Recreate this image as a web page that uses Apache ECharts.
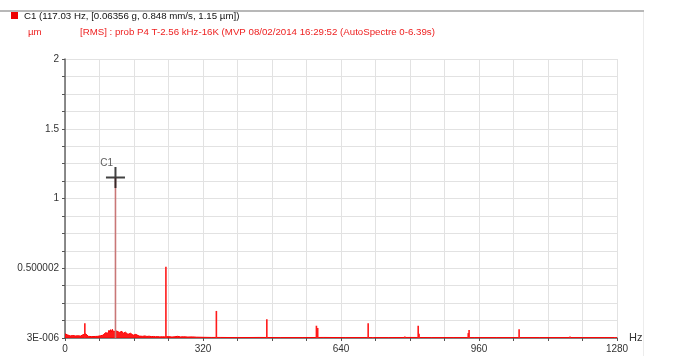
<!DOCTYPE html>
<html>
<head>
<meta charset="utf-8">
<script src="https://cdn.jsdelivr.net/npm/echarts@6/dist/echarts.min.js"></script>
<style>
  html, body { margin: 0; padding: 0; background: #fff; }
  #chart { width: 686px; height: 356px; }
</style>
</head>
<body>
<div id="chart"></div>
<script>
// Broadband floor of the displacement spectrum (Hz, µm RMS)
const floorHz = [0, 2, 4, 6, 8, 10, 12, 14, 16, 18, 20, 22, 24, 26, 28, 30, 32, 34, 36, 38, 40, 42, 44, 48, 50, 54, 58, 62, 66, 70, 73, 76, 79, 82, 85, 88, 90, 92, 94, 96, 98, 100, 102, 104, 106, 108, 110, 112, 114, 120, 122, 124, 126, 128, 130, 132, 134, 136, 138, 140, 142, 144, 146, 148, 150, 152, 154, 156, 158, 160, 162, 164, 166, 168, 172, 176, 180, 185, 190, 195, 200, 205, 210, 215, 220, 226, 232, 240, 248, 255, 258, 261, 264, 268, 275, 285, 295, 305, 320, 340, 360, 400, 450, 500, 550, 600, 650, 700, 750, 800, 850, 900, 950, 1000, 1050, 1100, 1150, 1200, 1250, 1280];
const floorVal = [0.030, 0.024, 0.018, 0.022, 0.016, 0.020, 0.015, 0.019, 0.014, 0.018, 0.013, 0.017, 0.015, 0.019, 0.013, 0.016, 0.012, 0.017, 0.014, 0.018, 0.016, 0.024, 0.032, 0.030, 0.016, 0.012, 0.014, 0.010, 0.013, 0.011, 0.016, 0.012, 0.020, 0.016, 0.026, 0.020, 0.032, 0.024, 0.038, 0.028, 0.046, 0.034, 0.056, 0.040, 0.060, 0.044, 0.062, 0.046, 0.052, 0.050, 0.038, 0.054, 0.040, 0.050, 0.036, 0.048, 0.032, 0.044, 0.030, 0.042, 0.028, 0.040, 0.026, 0.036, 0.024, 0.034, 0.022, 0.030, 0.020, 0.028, 0.018, 0.026, 0.016, 0.022, 0.014, 0.018, 0.012, 0.015, 0.011, 0.013, 0.010, 0.011, 0.009, 0.010, 0.008, 0.009, 0.008, 0.010, 0.007, 0.009, 0.022, 0.012, 0.018, 0.008, 0.009, 0.007, 0.008, 0.006, 0.005, 0.004, 0.004, 0.003, 0.004, 0.003, 0.003, 0.004, 0.003, 0.003, 0.003, 0.004, 0.003, 0.003, 0.003, 0.003, 0.003, 0.003, 0.003, 0.003, 0.003, 0.003];

// Discrete spectral lines (harmonics and side lines)
const lineHz  = [46, 234, 351, 468, 583, 586, 703, 714, 788, 819, 821, 935, 937, 1053, 1171, 1275];
const lineVal = [0.105, 0.51, 0.194, 0.134, 0.088, 0.072, 0.105, 0.008, 0.010, 0.088, 0.030, 0.035, 0.057, 0.062, 0.010, 0.008];

// Cursor C1 line
const cursorHz = 117.03;
const cursorVal = 1.15;

// Axis ticks
const xLabelStep = 320;
const yTickValues = [0, 0.5, 1, 1.5, 2];
const yTickLabels = ['3E-006', '0.500002', '1', '1.5', '2'];

const chart = echarts.init(document.getElementById('chart'), null, { renderer: 'canvas' });

const labelFont = 'Liberation Sans, Arial, sans-serif';

const option = {
  backgroundColor: '#ffffff',
  animation: false,
  textStyle: { fontFamily: labelFont },
  grid: { left: 65, right: 69, top: 59, bottom: 18, containLabel: false },
  xAxis: {
    type: 'value',
    min: 0, max: 1280, interval: 80,
    name: 'Hz',
    nameLocation: 'end',
    nameGap: 12,
    nameTextStyle: { color: '#333', fontSize: 11, padding: [8, 0, 0, 0], fontFamily: labelFont },
    axisLine: { show: true, onZero: false, lineStyle: { color: '#666', width: 1.5 } },
    axisTick: { show: true, inside: false, length: 3, lineStyle: { color: '#555' } },
    axisLabel: {
      color: '#333', fontSize: 10, margin: 6, fontFamily: labelFont,
      formatter: v => (v % xLabelStep === 0 ? String(v) : '')
    },
    splitLine: { show: true, lineStyle: { color: '#e2e2e2', width: 1 } }
  },
  yAxis: {
    type: 'value',
    min: 0, max: 2, interval: 0.125,
    axisLine: { show: true, lineStyle: { color: '#666', width: 1.5 } },
    axisTick: { show: true, inside: false, length: 3, lineStyle: { color: '#555' } },
    axisLabel: {
      color: '#333', fontSize: 10, margin: 6, fontFamily: labelFont,
      formatter: v => {
        const i = yTickValues.findIndex(t => Math.abs(t - v) < 1e-9);
        return i >= 0 ? yTickLabels[i] : '';
      }
    },
    splitLine: { show: true, lineStyle: { color: '#e2e2e2', width: 1 } }
  },
  series: [
    {
      type: 'line',
      data: floorHz.map((f, i) => [f, floorVal[i]]),
      showSymbol: false,
      lineStyle: { color: '#ff0000', width: 1 },
      areaStyle: { color: '#ff0000', opacity: 0.9 },
      z: 3
    },
    {
      type: 'bar',
      data: lineHz.map((f, i) => [f, lineVal[i]]),
      barWidth: 1.6,
      barGap: '-100%',
      itemStyle: { color: '#ff1a1a' },
      z: 4
    },
    {
      type: 'bar',
      data: [[cursorHz, cursorVal]],
      barWidth: 1.6,
      barGap: '-100%',
      itemStyle: { color: '#c97777' },
      z: 4
    },
    {
      type: 'scatter',
      data: [[cursorHz, cursorVal]],
      symbol: 'path://M8.5,0h2v9.5h8.5v2h-8.5v9.5h-2v-9.5h-8.5v-2h8.5z',
      symbolSize: [19, 21],
      itemStyle: { color: '#111' },
      label: {
        show: true,
        formatter: 'C1',
        position: 'left',
        offset: [12, -14],
        color: '#333',
        fontSize: 10,
        fontFamily: labelFont
      },
      z: 6
    }
  ],
  graphic: [
    // Panel frame
    { type: 'line', shape: { x1: 0, y1: 11, x2: 644, y2: 11 }, style: { stroke: '#b8b8b8', lineWidth: 2 }, silent: true },
    { type: 'line', shape: { x1: 643.5, y1: 12, x2: 643.5, y2: 356 }, style: { stroke: '#ececec', lineWidth: 1 }, silent: true },
    // Legend entry
    { type: 'rect', shape: { x: 11, y: 12, width: 7, height: 7 }, style: { fill: '#ee0000' }, silent: true },
    { type: 'text', left: 24, top: 11, style: { text: 'C1 (117.03 Hz, [0.06356 g, 0.848 mm/s, 1.15 µm])', fill: '#111', font: '9.7px ' + labelFont }, silent: true },
    { type: 'text', left: 28, top: 27, style: { text: 'µm', fill: '#ee2222', font: '9.7px ' + labelFont }, silent: true },
    { type: 'text', left: 80, top: 27, style: { text: '[RMS] : prob P4 T-2.56 kHz-16K (MVP 08/02/2014 16:29:52 (AutoSpectre 0-6.39s)', fill: '#ee2222', font: '9.7px ' + labelFont }, silent: true }
  ]
};

chart.setOption(option);
</script>
</body>
</html>
